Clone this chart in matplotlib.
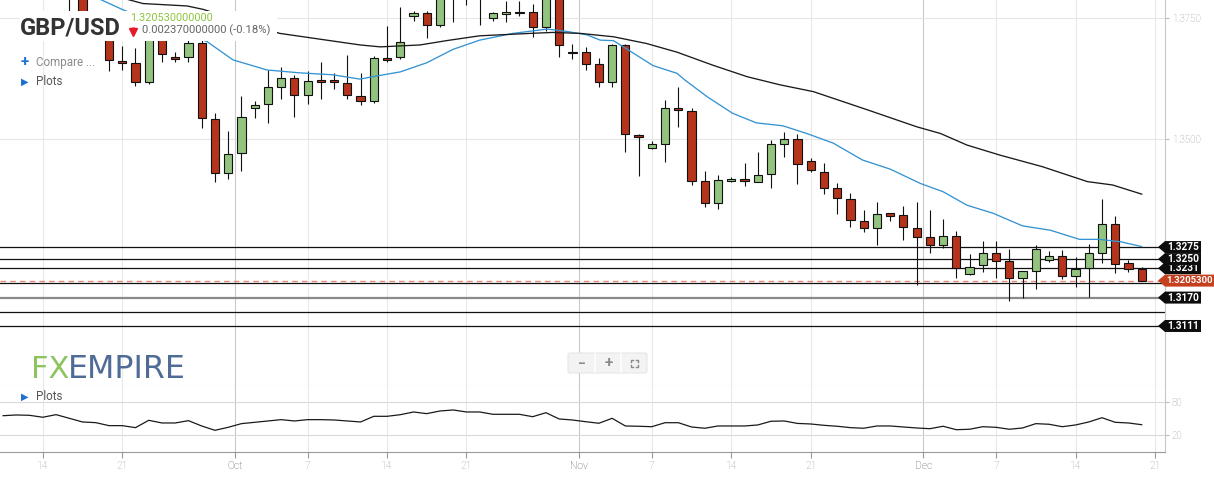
import numpy as np
import matplotlib
matplotlib.use("Agg")
import matplotlib.pyplot as plt
from matplotlib.transforms import blended_transform_factory
from matplotlib.patches import Polygon, Rectangle, FancyBboxPatch

plt.rcParams['font.family'] = ['Roboto', 'DejaVu Sans']

# ---------------- data (daily candles incl. Sunday sessions, Sep 10 - Dec 20) -------------
opens = [1.3840, 1.3835, 1.3840, 1.3853, 1.3833, 1.3830, 1.3795, 1.3735, 1.3725, 1.3662,
         1.3657, 1.3617, 1.3725, 1.3669, 1.3669, 1.3700, 1.3541, 1.3428, 1.3470, 1.3563,
         1.3572, 1.3607, 1.3626, 1.3592, 1.3622, 1.3622, 1.3615, 1.3589, 1.3578, 1.3667,
         1.3669, 1.3755, 1.3761, 1.3736, 1.3800, 1.3815, 1.3795, 1.3750, 1.3759, 1.3761,
         1.3764, 1.3732, 1.3805, 1.3678, 1.3681, 1.3655, 1.3617, 1.3694, 1.3507, 1.3480,
         1.3490, 1.3563, 1.3558, 1.3412, 1.3366, 1.3412, 1.3416, 1.3411, 1.3426, 1.3489,
         1.3499, 1.3454, 1.3432, 1.3397, 1.3375, 1.3329, 1.3314, 1.3345, 1.3342, 1.3314,
         1.3295, 1.3279, 1.3299, 1.3218, 1.3237, 1.3262, 1.3246, 1.3210, 1.3225, 1.3248,
         1.3257, 1.3215, 1.3231, 1.3262, 1.3322, 1.3241, 1.3229]
highs = [1.3890, 1.3845, 1.3870, 1.3913, 1.3858, 1.3835, 1.3800, 1.3740, 1.3740, 1.3693,
         1.3689, 1.3745, 1.3735, 1.3680, 1.3720, 1.3712, 1.3554, 1.3517, 1.3588, 1.3578,
         1.3642, 1.3649, 1.3632, 1.3641, 1.3659, 1.3636, 1.3674, 1.3636, 1.3672, 1.3734,
         1.3773, 1.3766, 1.3766, 1.3830, 1.3833, 1.3830, 1.3835, 1.3764, 1.3786, 1.3786,
         1.3780, 1.3830, 1.3815, 1.3698, 1.3691, 1.3667, 1.3698, 1.3698, 1.3509, 1.3496,
         1.3581, 1.3607, 1.3565, 1.3434, 1.3425, 1.3421, 1.3449, 1.3472, 1.3497, 1.3514,
         1.3509, 1.3460, 1.3449, 1.3409, 1.3388, 1.3352, 1.3368, 1.3346, 1.3361, 1.3369,
         1.3352, 1.3333, 1.3309, 1.3261, 1.3288, 1.3288, 1.3272, 1.3225, 1.3279, 1.3267,
         1.3269, 1.3255, 1.3281, 1.3375, 1.3340, 1.3248, 1.3234]
lows = [1.3820, 1.3828, 1.3805, 1.3812, 1.3800, 1.3765, 1.3730, 1.3715, 1.3641, 1.3643,
        1.3610, 1.3614, 1.3660, 1.3660, 1.3659, 1.3523, 1.3411, 1.3416, 1.3434, 1.3544,
        1.3532, 1.3583, 1.3545, 1.3572, 1.3583, 1.3603, 1.3583, 1.3570, 1.3574, 1.3659,
        1.3666, 1.3745, 1.3709, 1.3733, 1.3742, 1.3777, 1.3736, 1.3745, 1.3742, 1.3756,
        1.3711, 1.3725, 1.3669, 1.3666, 1.3643, 1.3607, 1.3607, 1.3472, 1.3423, 1.3479,
        1.3451, 1.3524, 1.3403, 1.3359, 1.3354, 1.3410, 1.3402, 1.3411, 1.3397, 1.3463,
        1.3407, 1.3432, 1.3385, 1.3343, 1.3317, 1.3306, 1.3279, 1.3329, 1.3290, 1.3196,
        1.3262, 1.3274, 1.3210, 1.3216, 1.3224, 1.3210, 1.3163, 1.3170, 1.3187, 1.3243,
        1.3208, 1.3192, 1.3172, 1.3242, 1.3221, 1.3224, 1.3204]
closes = [1.3835, 1.3840, 1.3853, 1.3833, 1.3823, 1.3795, 1.3737, 1.3725, 1.3663, 1.3658,
          1.3618, 1.3725, 1.3676, 1.3665, 1.3700, 1.3543, 1.3428, 1.3468, 1.3545, 1.3570,
          1.3607, 1.3626, 1.3592, 1.3620, 1.3618, 1.3618, 1.3592, 1.3578, 1.3667, 1.3663,
          1.3702, 1.3761, 1.3736, 1.3800, 1.3815, 1.3795, 1.3800, 1.3761, 1.3763, 1.3764,
          1.3732, 1.3805, 1.3694, 1.3681, 1.3655, 1.3617, 1.3694, 1.3509, 1.3504, 1.3490,
          1.3563, 1.3560, 1.3412, 1.3366, 1.3414, 1.3416, 1.3412, 1.3424, 1.3489, 1.3499,
          1.3447, 1.3435, 1.3397, 1.3376, 1.3331, 1.3314, 1.3343, 1.3340, 1.3316, 1.3295,
          1.3279, 1.3299, 1.3232, 1.3234, 1.3262, 1.3246, 1.3210, 1.3225, 1.3271, 1.3257,
          1.3215, 1.3229, 1.3262, 1.3322, 1.3239, 1.3229, 1.32053]

# oscillator in lower pane
osc = [54.7, 56.0, 55.4, 51.9, 56.6, 50.0, 43.4, 42.2, 36.8, 36.8,
       33.2, 46.4, 41.6, 41.6, 45.8, 36.2, 28.4, 33.8, 40.4, 42.8,
       45.2, 47.6, 45.2, 47.6, 47.6, 47.0, 45.2, 43.4, 53.6, 53.6,
       56.5, 61.4, 58.4, 63.2, 65.0, 61.4, 61.4, 57.2, 57.2, 57.2,
       52.9, 60.1, 48.8, 47.0, 43.9, 41.1, 50.0, 36.2, 35.7, 34.9,
       42.1, 42.1, 34.4, 32.1, 36.2, 36.2, 36.2, 38.0, 44.7, 45.2,
       40.8, 39.8, 37.4, 35.7, 33.2, 32.1, 36.2, 36.2, 34.4, 32.6,
       31.3, 35.7, 29.5, 30.3, 34.9, 33.8, 30.3, 32.6, 40.4, 39.3,
       34.9, 38.0, 43.4, 51.1, 42.8, 41.6, 38.5]

# moving averages
blue_x = [4.3, 7.47, 9.06, 15.4, 17.36, 19.93, 22.4, 24.9, 26.96, 27.9, 30.0, 32.0, 34.0,
          36.0, 38.5, 41.1, 42.6, 44.1, 45.1, 46.1, 47.6, 49.1, 50.9, 51.5, 53.2, 55.1,
          56.9, 58.9, 60.7, 62.7, 64.9, 67.0, 69.3, 71.0, 72.8, 74.8, 77.0, 79.1, 81.3,
          82.8, 84.4, 86.0]
blue_y = [1.3832, 1.3788, 1.3768, 1.3702, 1.3664, 1.3643, 1.3637, 1.3633, 1.3624, 1.3629,
          1.3639, 1.3658, 1.3686, 1.3705, 1.3719, 1.3728, 1.3723, 1.3716, 1.3705, 1.3704,
          1.3678, 1.3652, 1.3636, 1.3622, 1.3587, 1.3553, 1.3533, 1.3527, 1.3511, 1.3491,
          1.3456, 1.3437, 1.3407, 1.3390, 1.3362, 1.3345, 1.3319, 1.3310, 1.3291, 1.3291,
          1.3286, 1.3276]
black_x = [8.0, 10.57, 13.9, 15.1, 20.9, 26.96, 28.5, 31.5, 33.5, 36.0, 39.8, 41.5, 43.6,
           46.1, 48.6, 50.9, 53.6, 56.2, 58.7, 61.2, 65.3, 69.0, 70.8, 72.8, 75.3, 78.5,
           81.9, 83.8, 86.0]
black_y = [1.3800, 1.3781, 1.3776, 1.3769, 1.3719, 1.3695, 1.3691, 1.3695, 1.3704, 1.3714,
           1.3719, 1.3721, 1.3719, 1.3712, 1.3698, 1.3680, 1.3653, 1.3629, 1.3612, 1.3598,
           1.3560, 1.3525, 1.3511, 1.3487, 1.3466, 1.3442, 1.3411, 1.3404, 1.3385]

tick_pos = [3, 9, 17.5, 23, 29, 35, 43.5, 49, 55, 61, 69.5, 75, 81, 87]
tick_lbl = ['14', '21', 'Oct', '7', '14', '21', 'Nov', '7', '14', '21', 'Dec', '7', '14', '21']
month_lbls = ['Oct', 'Nov', 'Dec']

levels_black = [1.3275, 1.3250, 1.3231, 1.3200, 1.3140, 1.3111]
level_gray = 1.3170
last_price = 1.32053
label_levels = [1.3231, 1.3275, 1.3250, 1.3170, 1.3111]   # drawing order
price_ticks = [1.3500, 1.3750]
osc_ticks = [20, 80]

# ---------------- layout ----------------
W, H = 1214, 480
fig = plt.figure(figsize=(W / 100, H / 100), dpi=100)
ax = fig.add_axes([0, (H - 385.7) / H, 1165 / W, 385.7 / H])
ax2 = fig.add_axes([0, (H - 451.7) / H, 1165 / W, 66 / H])
ov = fig.add_axes([0, 0, 1, 1])
ov.set_zorder(10)
ov.patch.set_alpha(0)
ov.set_xlim(0, W)
ov.set_ylim(H, 0)
ov.axis('off')

n = len(opens)
idx = np.arange(n)
xl = (-0.234, 87.76)
ax.set_xlim(*xl)
ax2.set_xlim(*xl)
ax.set_ylim(1.29869, 1.37884)
ax2.set_ylim(-10.1, 108.7)
px = (1.37884 - 1.29869) / 385.7  # price per pixel

for a in (ax, ax2):
    a.spines['top'].set_visible(False)
    a.spines['left'].set_visible(False)
    a.spines['right'].set_color('#c8c8c8')
    a.spines['right'].set_linewidth(0.8)
    a.yaxis.tick_right()
    a.tick_params(axis='y', length=3, color='#bbbbbb', labelcolor='#999999',
                  labelsize=7, pad=2)
ax.spines['bottom'].set_color('#cfcfcf')
ax.spines['bottom'].set_linewidth(0.8)
ax2.spines['bottom'].set_color('#9a9a9a')
ax2.spines['bottom'].set_linewidth(0.8)

ax.set_yticks(price_ticks)
ax.set_yticklabels([f'{v:.4f}' for v in price_ticks])
ax.tick_params(axis='x', length=0, labelbottom=False)
ax2.set_yticks(osc_ticks)
ax2.set_yticklabels([str(v) for v in osc_ticks])
ax2.set_xticks(tick_pos)
ax2.set_xticklabels(tick_lbl)
ax2.tick_params(axis='x', length=4, color='#999999', labelcolor='#999999',
                labelsize=7.5, pad=3)
for lbl in ax2.get_xticklabels():
    if lbl.get_text() in month_lbls:
        lbl.set_color('#555555')
for lbl in ax2.get_xticklabels() + ax2.get_yticklabels() + ax.get_yticklabels():
    lbl.set_fontweight('light')

# grid
for p, lab in zip(tick_pos, tick_lbl):
    c = '#c9c9c9' if lab in month_lbls else '#e9e9e9'
    ax.axvline(p, color=c, lw=0.8, zorder=0)
    ax2.axvline(p, color=c, lw=0.8, zorder=0)
for v in price_ticks:
    ax.axhline(v, color='#e6e6e6', lw=0.8, zorder=0)
for v in osc_ticks:
    ax2.axhline(v, color='#d9d9d9', lw=0.8, zorder=0)

# support / resistance lines
for v in levels_black:
    ax.axhline(v, color='#111111', lw=0.9, zorder=1)
ax.axhline(level_gray, color='#8a8a8a', lw=1.6, zorder=1)
ax.axhline(last_price, color='#e48a78', lw=1.0, ls=(0, (4, 3)), zorder=1)

# candles
o = np.array(opens); h = np.array(highs); l = np.array(lows); c = np.array(closes)
up = c >= o
cols = np.where(up, '#93c47f', '#b5341b')
ax.vlines(idx, l, h, color='#111111', lw=0.8, zorder=3)
ax.bar(idx, np.abs(c - o), bottom=np.minimum(o, c), width=0.62, color=cols,
       edgecolor='#111111', linewidth=0.8, zorder=4)

# moving averages
ax.plot(blue_x, blue_y, color='#3593d3', lw=0.95, zorder=5)
ax.plot(black_x, black_y, color='#1a1a1a', lw=0.95, zorder=5)

# oscillator
ax2.plot(idx, osc, color='#1a1a1a', lw=0.9, zorder=3)

# right-hand price labels
tr = blended_transform_factory(ax.transAxes, ax.transData)
hh = 6.0 * px
tip = 1158 / 1165
x1 = 1201 / 1165


def price_label(val, text, color, right, z, fs=7.3, x0=1167.5):
    poly = Polygon([(tip, val), (1.0, val + hh), (right, val + hh), (right, val - hh),
                    (1.0, val - hh)], closed=True, transform=tr, clip_on=False,
                   facecolor=color, edgecolor='none', zorder=z)
    ax.add_patch(poly)
    ax.text(x0 / 1165, val, text, transform=tr, clip_on=False, color='white',
            fontsize=fs, fontweight='bold', va='center', ha='left', zorder=z + 0.1)


for k, v in enumerate(label_levels):
    price_label(v, f'{v:.4f}', '#0d0d0d', x1, 20 + k)
price_label(last_price, f'{last_price:.7f}', '#c63f1e', 1.06, 40, fs=6.8, x0=1166.5)

# ---------------- overlay decorations ----------------
ov.add_patch(Rectangle((20, 11), 257, 30, facecolor='white', edgecolor='none', zorder=1))
ov.text(20, 34.5, 'GBP/USD', fontsize=17, fontweight='bold', color='#333333',
        va='baseline', ha='left', zorder=2)
ov.text(130, 20.8, f'{last_price:.12f}', fontsize=7.8, color='#8cc63f',
        va='baseline', ha='left', zorder=2)
ov.plot([133.3], [32.0], marker='v', markersize=5.5, color='#e5192c', zorder=2)
ov.plot([133.3, 133.3], [26.5, 30.5], color='#e5192c', lw=2.2, zorder=2,
        solid_capstyle='butt')
ov.text(141.7, 33.3, '0.002370000000 (-0.18%)', fontsize=8.1, color='#666666',
        va='baseline', ha='left', zorder=2)
ov.text(25, 62.3, '+', fontsize=11, fontweight='bold', color='#1f6fd1',
        va='center', ha='center', zorder=2)
ov.text(36, 62.3, 'Compare ...', fontsize=8.4, color='#8a8a8a', va='center',
        ha='left', zorder=2)
for yy in (81.5, 396.5):
    ov.text(25, yy, '\u25B6', fontsize=7, color='#1f6fd1', va='center', ha='center',
            family='DejaVu Sans', zorder=2)
    ov.text(36, yy, 'Plots', fontsize=8.4, color='#555555', va='center', ha='left',
            zorder=2)

# FXEMPIRE watermark
ov.text(31, 378.3, 'FX', fontsize=22, color='#8dc460', family='DejaVu Sans',
        va='baseline', ha='left', zorder=2)
ov.text(68, 378.3, 'EMPIRE', fontsize=22.8, color='#4e6c96', family='DejaVu Sans',
        va='baseline', ha='left', zorder=2)

# zoom control
ov.add_patch(FancyBboxPatch((568, 353), 79, 20, boxstyle='round,pad=0,rounding_size=2',
                            facecolor='#f3f3f3', edgecolor='#e6e6e6', lw=0.8, zorder=2))
for sx in (595, 621):
    ov.plot([sx, sx], [354, 372], color='white', lw=1.2, zorder=3)
ov.text(581.7, 363.5, '\u2212', fontsize=10, fontweight='bold', color='#8a8a8a',
        va='center', ha='center', zorder=3)
ov.text(608.3, 363.5, '+', fontsize=11, fontweight='bold', color='#8a8a8a',
        va='center', ha='center', zorder=3)
cx, cy, s, t = 634.3, 363.3, 3.5, 1.8
for dx in (-1, 1):
    for dy in (-1, 1):
        ov.plot([cx + dx * s, cx + dx * s, cx + dx * (s - t)],
                [cy + dy * (s - t), cy + dy * s, cy + dy * s],
                color='#8a8a8a', lw=1.0, zorder=3)

fig.savefig('out.png', dpi=100)
